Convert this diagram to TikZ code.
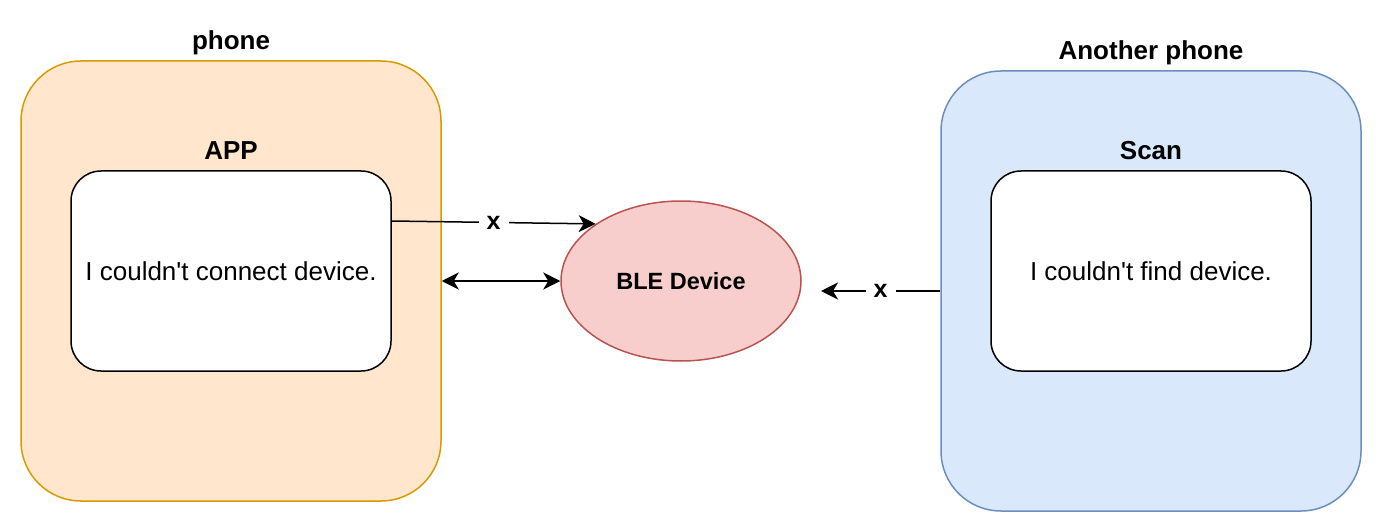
\documentclass[tikz,border=0pt]{standalone}
\usepackage{fontspec}
\newfontfamily\arialfont{Liberation Sans}
\usetikzlibrary{shapes.geometric,arrows.meta}
\definecolor{phonefill}{HTML}{FFE6CC}
\definecolor{phoneline}{HTML}{D79B00}
\definecolor{otherfill}{HTML}{DAE8FC}
\definecolor{otherline}{HTML}{6C8EBF}
\definecolor{blefill}{HTML}{F8CECC}
\definecolor{bleline}{HTML}{B85450}
\tikzset{
  phonebox/.style={draw, line width=1.5pt, rounded corners=60pt, minimum width=420pt, minimum height=440pt},
  appbox/.style={draw=black, fill=white, line width=1.5pt, rounded corners=30pt, minimum width=320pt, minimum height=200pt, font=\arialfont\fontsize{26}{31}\selectfont},
  title/.style={anchor=base, font=\arialfont\bfseries\fontsize{26}{31}\selectfont},
  cross/.style={fill=white, inner xsep=8pt, inner ysep=2pt, font=\arialfont\bfseries\fontsize{25}{30}\selectfont},
  tip/.tip={Stealth[length=17pt,width=17pt,inset=5pt]},
  link/.style={line width=1.5pt, -tip},
}
\begin{document}
\begin{tikzpicture}[x=1pt,y=-1pt]
\useasboundingbox (0,0) rectangle (1382,532);
% first phone
\node[phonebox, draw=phoneline, fill=phonefill] (phone) at (231,281) {};
\node[title] (phonetitle) at (231,50) {phone};
\node[appbox] (app) at (231,271) {I couldn't connect device.};
\node[title] (apptitle) at (231,160) {APP};
% device
\node[ellipse, draw=bleline, fill=blefill, line width=1.5pt, minimum width=240pt, minimum height=160pt,
  font=\arialfont\bfseries\fontsize{23.5}{28}\selectfont] (ble) at (681,281) {BLE Device};
% another phone
\node[phonebox, draw=otherline, fill=otherfill] (other) at (1151,291) {};
\node[title] (othertitle) at (1151,60) {Another phone};
\node[appbox] (scan) at (1151,271) {I couldn't find device.};
\node[title] (scantitle) at (1151,160) {Scan};
\coordinate (lost) at (821,291);
% links
\draw[link] ([yshift=50pt]app.east) -- node[cross]{x} (ble.north west);
\draw[link, tip-tip] (phone.east) -- (ble.west);
\draw[link] (other.west) -- node[cross]{x} (lost);
\end{tikzpicture}
\end{document}
